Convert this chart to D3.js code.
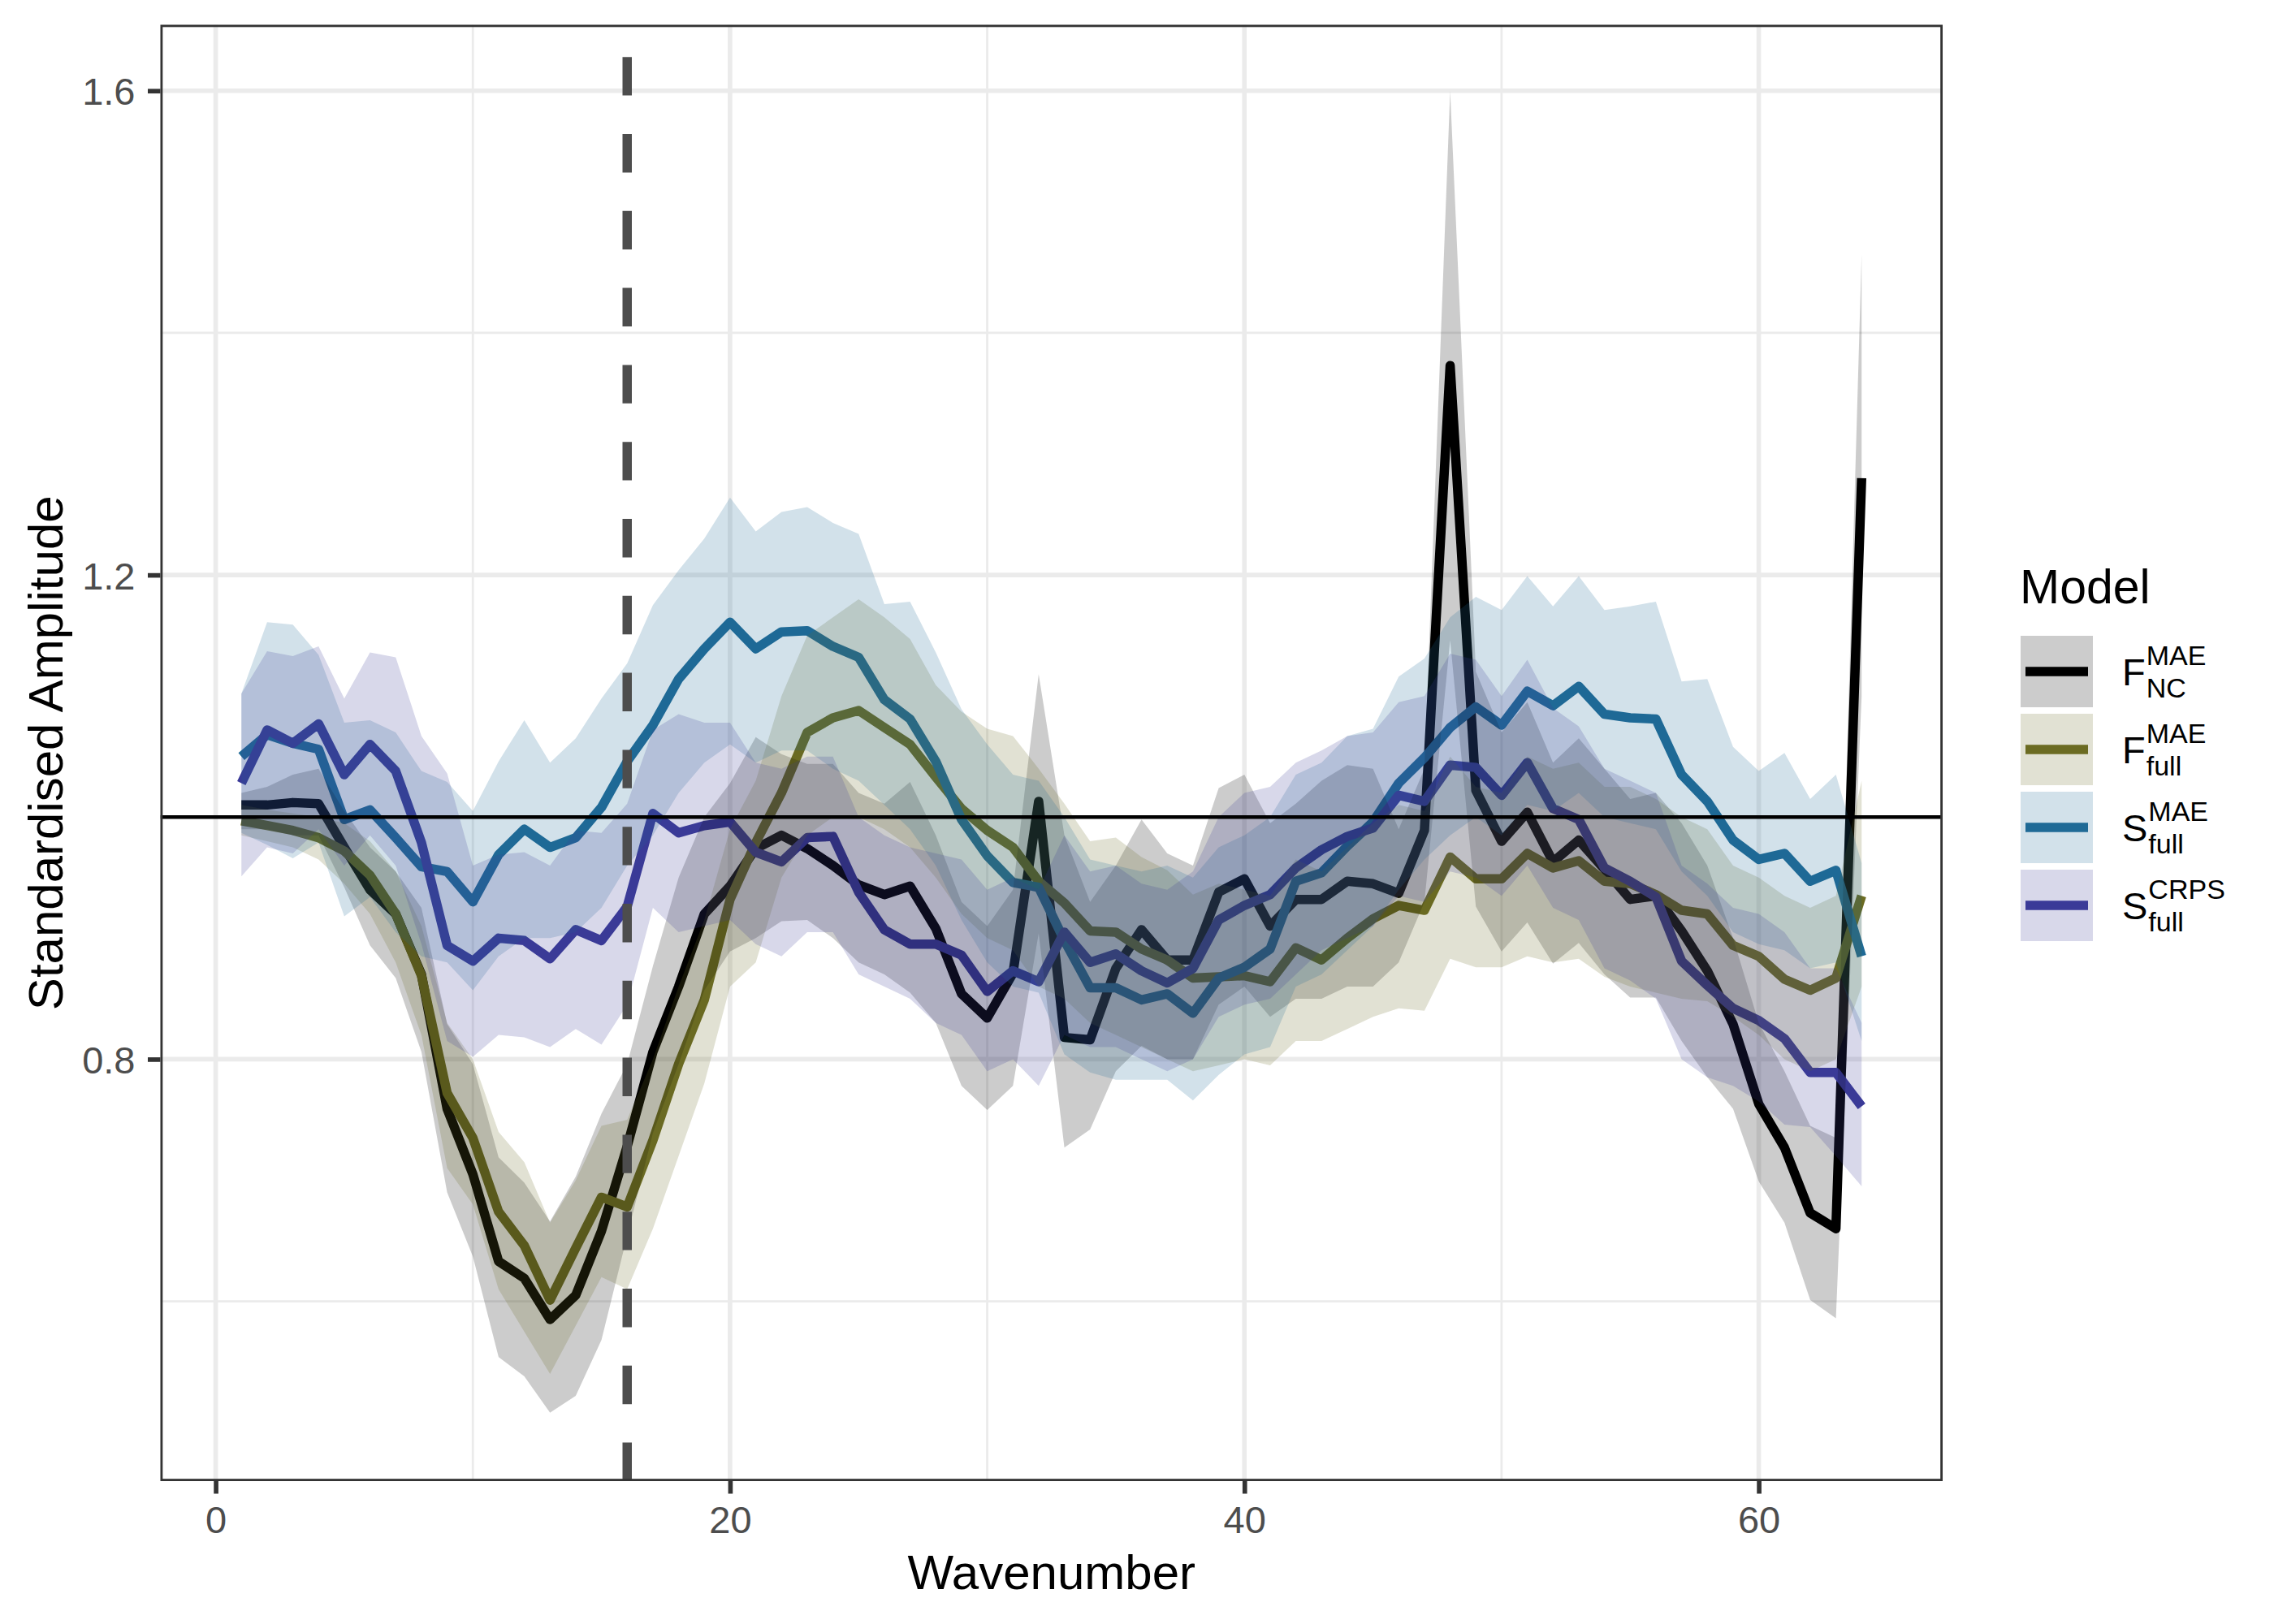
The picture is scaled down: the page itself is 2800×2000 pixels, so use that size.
<!DOCTYPE html>
<html>
<head>
<meta charset="utf-8">
<script src="https://cdn.jsdelivr.net/npm/d3@7"></script>
<style>
  body { margin: 0; background: #ffffff; }
  text { font-family: "Liberation Sans", Arial, sans-serif; }
</style>
</head>
<body>
<script>
// wavenumbers 1..64
const wavenumber = d3.range(1, 65);

// F_NC^MAE
const fncMean = [1.010,1.010,1.012,1.011,0.975,0.940,0.920,0.870,0.759,0.705,
  0.633,0.619,0.585,0.605,0.658,0.728,0.806,0.860,0.920,0.943,
  0.974,0.985,0.974,0.960,0.944,0.936,0.943,0.908,0.854,0.834,
  0.871,1.013,0.818,0.816,0.875,0.907,0.882,0.882,0.938,0.949,
  0.910,0.932,0.932,0.947,0.945,0.937,0.989,1.373,1.022,0.980,
  1.004,0.963,0.981,0.957,0.932,0.935,0.906,0.873,0.829,0.763,
  0.727,0.673,0.660,1.280];
const fncLower = [0.990,0.990,0.985,0.985,0.942,0.894,0.867,0.806,0.690,0.637,
  0.554,0.538,0.508,0.522,0.568,0.654,0.739,0.796,0.857,0.889,
  0.900,0.914,0.915,0.900,0.880,0.870,0.855,0.830,0.778,0.758,
  0.778,0.904,0.727,0.742,0.790,0.811,0.800,0.800,0.845,0.860,
  0.835,0.850,0.850,0.860,0.860,0.880,0.930,1.146,0.926,0.889,
  0.913,0.879,0.896,0.870,0.851,0.851,0.815,0.785,0.759,0.699,
  0.665,0.601,0.586,1.100];
const fncUpper = [1.020,1.025,1.035,1.040,1.005,0.975,0.955,0.925,0.829,0.796,
  0.719,0.698,0.666,0.703,0.755,0.796,0.877,0.950,1.000,1.028,
  1.066,1.052,1.044,1.044,1.020,1.011,1.029,0.985,0.930,0.910,
  0.940,1.118,0.985,0.930,0.960,0.998,0.970,0.960,1.024,1.035,
  0.995,1.011,1.030,1.043,1.040,0.990,1.040,1.600,1.120,1.070,
  1.095,1.045,1.065,1.040,1.015,1.020,0.995,0.960,0.900,0.830,
  0.790,0.745,0.735,1.465];

// F_full^MAE
const ffullMean = [0.997,0.993,0.989,0.983,0.972,0.952,0.920,0.869,0.772,0.735,
  0.674,0.646,0.601,0.644,0.686,0.678,0.733,0.796,0.849,0.932,
  0.979,1.020,1.070,1.082,1.088,1.074,1.060,1.033,1.007,0.989,
  0.975,0.947,0.929,0.906,0.905,0.891,0.882,0.867,0.868,0.869,
  0.864,0.892,0.882,0.900,0.916,0.927,0.923,0.967,0.949,0.949,
  0.970,0.958,0.964,0.947,0.945,0.936,0.923,0.920,0.894,0.885,
  0.866,0.857,0.867,0.935];
const ffullLower = [0.985,0.980,0.975,0.965,0.945,0.920,0.880,0.820,0.710,0.680,
  0.610,0.575,0.540,0.580,0.620,0.610,0.660,0.720,0.780,0.860,
  0.880,0.950,0.985,1.000,1.000,0.990,0.975,0.950,0.920,0.900,
  0.890,0.860,0.850,0.830,0.820,0.810,0.800,0.790,0.795,0.800,
  0.795,0.815,0.815,0.825,0.835,0.842,0.840,0.883,0.876,0.876,
  0.885,0.880,0.883,0.868,0.860,0.855,0.850,0.848,0.835,0.820,
  0.800,0.790,0.800,0.860];
const ffullUpper = [1.010,1.006,1.003,1.000,0.995,0.980,0.955,0.910,0.830,0.800,
  0.740,0.715,0.665,0.700,0.745,0.750,0.800,0.860,0.915,0.990,
  1.030,1.100,1.150,1.165,1.180,1.165,1.147,1.109,1.087,1.073,
  1.067,1.040,1.011,0.980,0.983,0.967,0.956,0.936,0.945,0.940,
  0.935,0.965,0.955,0.975,0.995,1.010,1.005,1.050,1.025,1.020,
  1.050,1.040,1.045,1.025,1.025,1.015,1.000,0.990,0.960,0.950,
  0.935,0.925,0.935,1.030];

// S_full^MAE
const smaeMean = [1.050,1.068,1.061,1.056,0.998,1.006,0.983,0.959,0.955,0.930,
  0.969,0.990,0.975,0.983,1.008,1.046,1.076,1.114,1.139,1.161,
  1.139,1.153,1.154,1.141,1.132,1.097,1.081,1.046,0.998,0.968,
  0.946,0.942,0.898,0.859,0.859,0.849,0.854,0.838,0.867,0.876,
  0.891,0.947,0.954,0.976,0.996,1.028,1.049,1.074,1.091,1.076,
  1.104,1.092,1.108,1.085,1.082,1.081,1.035,1.013,0.981,0.965,
  0.970,0.947,0.956,0.885];
const smaeLower = [0.987,0.977,0.966,0.979,0.918,0.934,0.905,0.885,0.880,0.857,
  0.885,0.900,0.900,0.905,0.925,0.960,0.985,1.020,1.045,1.060,
  1.045,1.055,1.055,1.040,1.030,1.010,0.990,0.960,0.915,0.880,
  0.860,0.855,0.804,0.789,0.783,0.783,0.783,0.766,0.787,0.804,
  0.810,0.860,0.870,0.890,0.910,0.940,0.965,0.985,1.000,0.985,
  1.010,1.005,1.020,1.000,0.995,0.990,0.955,0.935,0.905,0.895,
  0.890,0.875,0.880,0.815];
const smaeUpper = [1.102,1.161,1.159,1.134,1.078,1.080,1.070,1.038,1.029,1.005,
  1.046,1.080,1.045,1.065,1.098,1.127,1.175,1.204,1.230,1.264,
  1.236,1.252,1.256,1.243,1.234,1.176,1.178,1.136,1.089,1.060,
  1.035,1.030,1.000,0.965,0.960,0.955,0.960,0.950,0.975,0.985,
  1.000,1.035,1.045,1.067,1.073,1.116,1.131,1.165,1.182,1.171,
  1.199,1.174,1.199,1.171,1.174,1.178,1.112,1.114,1.058,1.038,
  1.053,1.015,1.035,0.962];

// S_full^CRPS
const scrpsMean = [1.028,1.072,1.061,1.077,1.035,1.060,1.038,0.979,0.894,0.881,
  0.900,0.898,0.883,0.907,0.898,0.926,1.003,0.987,0.993,0.996,
  0.971,0.963,0.983,0.984,0.938,0.907,0.895,0.895,0.886,0.856,
  0.873,0.864,0.905,0.880,0.887,0.873,0.863,0.875,0.915,0.927,
  0.936,0.958,0.973,0.984,0.991,1.018,1.013,1.043,1.041,1.018,
  1.045,1.007,0.998,0.958,0.947,0.934,0.881,0.861,0.842,0.832,
  0.817,0.789,0.789,0.761];
const scrpsLower = [0.951,0.975,0.970,0.990,0.960,0.985,0.960,0.895,0.815,0.802,
  0.820,0.818,0.810,0.825,0.812,0.845,0.925,0.905,0.910,0.915,
  0.895,0.885,0.905,0.905,0.870,0.860,0.850,0.830,0.820,0.790,
  0.800,0.778,0.820,0.810,0.810,0.800,0.790,0.800,0.835,0.845,
  0.850,0.870,0.890,0.900,0.910,0.935,0.930,0.955,0.950,0.935,
  0.960,0.925,0.915,0.875,0.865,0.850,0.800,0.785,0.778,0.765,
  0.746,0.744,0.720,0.695];
const scrpsUpper = [1.102,1.137,1.133,1.141,1.098,1.136,1.132,1.067,1.036,0.960,
  0.969,0.971,0.960,0.989,0.987,1.011,1.072,1.085,1.078,1.078,
  1.045,1.040,1.050,1.050,1.000,0.985,0.975,0.970,0.965,0.940,
  0.950,0.940,0.985,0.955,0.960,0.945,0.940,0.955,1.000,1.020,
  1.025,1.045,1.055,1.067,1.070,1.095,1.100,1.135,1.130,1.100,
  1.130,1.090,1.075,1.040,1.030,1.020,0.960,0.945,0.925,0.920,
  0.905,0.875,0.875,0.830];

// legend labels and colours
const modelBase = ["F", "F", "S", "S"];
const modelSup = ["MAE", "MAE", "MAE", "CRPS"];
const modelSub = ["NC", "full", "full", "full"];
const modelColours = ["#000000", "#6B6B22", "#1F6A96", "#3A3A98"];

// axis breaks
const xMajor = [0, 20, 40, 60];
const xMinor = [10, 30, 50];
const yMajor = [0.8, 1.2, 1.6];
const yMinor = [0.6, 1.0, 1.4];

const series = [
  [fncMean, fncLower, fncUpper],
  [ffullMean, ffullLower, ffullUpper],
  [smaeMean, smaeLower, smaeUpper],
  [scrpsMean, scrpsLower, scrpsUpper]
].map(([m, lo, hi], i) => ({
  colour: modelColours[i],
  values: wavenumber.map((k, j) => ({ k: k, mean: m[j], lower: lo[j], upper: hi[j] }))
}));

const panel = { left: 197.5, right: 2392, top: 30.5, bottom: 1824 };

const svg = d3.select("body")
  .append("svg")
  .attr("width", 2800)
  .attr("height", 2000);

svg.append("rect").attr("width", 2800).attr("height", 2000).attr("fill", "#ffffff");

const x = d3.scaleLinear().domain([-2.15, 67.15]).range([panel.left, panel.right]);
const y = d3.scaleLinear().domain([0.4515, 1.6545]).range([panel.bottom, panel.top]);

svg.append("clipPath").attr("id", "clip")
  .append("rect")
  .attr("x", panel.left).attr("y", panel.top)
  .attr("width", panel.right - panel.left).attr("height", panel.bottom - panel.top);

// grid
const grid = svg.append("g").attr("stroke", "#EBEBEB").attr("clip-path", "url(#clip)");
grid.selectAll(".xminor").data(xMinor).join("line")
  .attr("x1", d => x(d)).attr("x2", d => x(d))
  .attr("y1", panel.top).attr("y2", panel.bottom)
  .attr("stroke-width", 2.83);
grid.selectAll(".yminor").data(yMinor).join("line")
  .attr("y1", d => y(d)).attr("y2", d => y(d))
  .attr("x1", panel.left).attr("x2", panel.right)
  .attr("stroke-width", 2.83);
grid.selectAll(".xmajor").data(xMajor).join("line")
  .attr("x1", d => x(d)).attr("x2", d => x(d))
  .attr("y1", panel.top).attr("y2", panel.bottom)
  .attr("stroke-width", 5.66);
grid.selectAll(".ymajor").data(yMajor).join("line")
  .attr("y1", d => y(d)).attr("y2", d => y(d))
  .attr("x1", panel.left).attr("x2", panel.right)
  .attr("stroke-width", 5.66);

const plot = svg.append("g").attr("clip-path", "url(#clip)");

// lines first, ribbons drawn over them
const line = d3.line().x(d => x(d.k)).y(d => y(d.mean));
const area = d3.area().x(d => x(d.k)).y0(d => y(d.lower)).y1(d => y(d.upper));

plot.selectAll(".model-line")
  .data(series)
  .join("path")
  .attr("class", "model-line")
  .attr("d", d => line(d.values))
  .attr("fill", "none")
  .attr("stroke", d => d.colour)
  .attr("stroke-width", 11.5)
  .attr("stroke-linejoin", "round")
  .attr("stroke-linecap", "butt");

plot.selectAll(".ribbon")
  .data(series)
  .join("path")
  .attr("class", "ribbon")
  .attr("d", d => area(d.values))
  .attr("fill", d => d.colour)
  .attr("fill-opacity", 0.2);

// reference lines
plot.append("line")
  .attr("x1", panel.left).attr("x2", panel.right)
  .attr("y1", y(1)).attr("y2", y(1))
  .attr("stroke", "#000000").attr("stroke-width", 4.4);

plot.append("line")
  .attr("x1", x(16)).attr("x2", x(16))
  .attr("y1", panel.bottom).attr("y2", panel.top)
  .attr("stroke", "#4D4D4D").attr("stroke-width", 11.5)
  .attr("stroke-dasharray", "47.4 47.4");

// panel border
svg.append("rect")
  .attr("x", panel.left + 1.4).attr("y", panel.top + 1.4)
  .attr("width", panel.right - panel.left - 2.8).attr("height", panel.bottom - panel.top - 2.8)
  .attr("fill", "none").attr("stroke", "#333333").attr("stroke-width", 2.83);

// axes
const xAxis = svg.append("g")
  .attr("transform", `translate(0,${panel.bottom})`)
  .call(d3.axisBottom(x).tickValues(xMajor).tickFormat(d3.format("d")).tickSize(15.5).tickPadding(15));
const yAxis = svg.append("g")
  .attr("transform", `translate(${panel.left},0)`)
  .call(d3.axisLeft(y).tickValues(yMajor).tickFormat(d3.format(".1f")).tickSize(15.5).tickPadding(15.5));

[xAxis, yAxis].forEach(ax => {
  ax.select(".domain").remove();
  ax.selectAll(".tick line").attr("stroke", "#333333").attr("stroke-width", 5.66);
  ax.selectAll(".tick text")
    .attr("fill", "#4D4D4D")
    .style("font-size", "47px")
    .style("font-family", "'Liberation Sans', Arial, sans-serif");
});
yAxis.selectAll(".tick text").attr("dy", "0.36em");

// axis titles
svg.append("text")
  .attr("x", (panel.left + panel.right) / 2).attr("y", 1957)
  .attr("text-anchor", "middle")
  .style("font-size", "60px")
  .text("Wavenumber");

svg.append("text")
  .attr("transform", `translate(77,${(panel.top + panel.bottom) / 2}) rotate(-90)`)
  .attr("text-anchor", "middle")
  .style("font-size", "60px")
  .text("Standardised Amplitude");

// legend
const legend = svg.append("g");
legend.append("text")
  .attr("x", 2487).attr("y", 743)
  .style("font-size", "59px")
  .text("Model");

const keyTop = 783, keySize = 88, keyStep = 96;
modelColours.forEach((c, i) => {
  const top = keyTop + i * keyStep;
  const mid = top + keySize / 2;
  legend.append("rect")
    .attr("x", 2488).attr("y", top)
    .attr("width", 89).attr("height", keySize)
    .attr("fill", c).attr("fill-opacity", 0.2);
  legend.append("line")
    .attr("x1", 2494).attr("x2", 2571)
    .attr("y1", mid).attr("y2", mid)
    .attr("stroke", c).attr("stroke-width", 11.5);

  const base = legend.append("text")
    .attr("x", 2613).attr("y", mid + 17)
    .style("font-size", "47px")
    .text(modelBase[i]);
  const sx = 2613 + base.node().getComputedTextLength() + 1;
  legend.append("text")
    .attr("x", sx).attr("y", mid - 8)
    .style("font-size", "34px")
    .text(modelSup[i]);
  legend.append("text")
    .attr("x", sx).attr("y", mid + 32)
    .style("font-size", "34px")
    .text(modelSub[i]);
});
</script>
</body>
</html>
